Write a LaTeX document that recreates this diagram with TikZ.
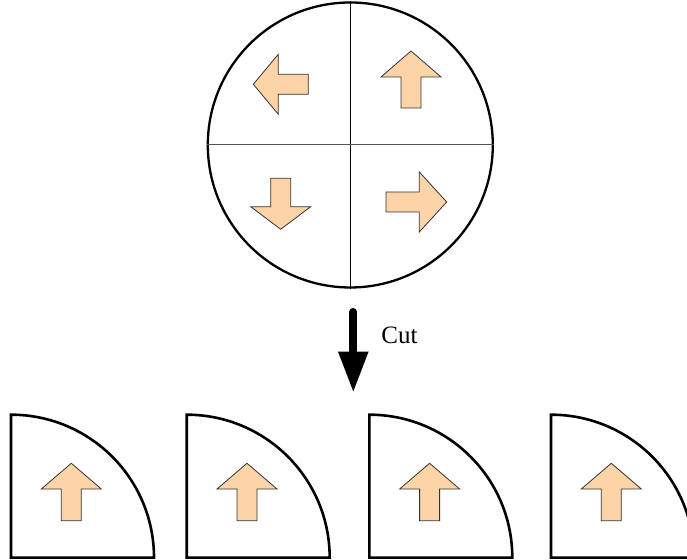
\documentclass[tikz,border=0pt]{standalone}
\usepackage{fontspec}
\setmainfont{Liberation Serif}
\usepackage{tikz}
\usetikzlibrary{arrows.meta,positioning}
\definecolor{tilefill}{HTML}{FDD4A7}
\definecolor{crossgray}{HTML}{555555}
\newcommand{\tilearrow}[4]{%
  \draw[arrowpoly,shift={#1},rotate=#2] (0,0) -- (30,-#3) -- (10,-#3) -- (10,-#4)
    -- (-10,-#4) -- (-10,-#3) -- (-30,-#3) -- cycle;}

\begin{document}
\begin{tikzpicture}[
      x=0.5pt,y=0.5pt,
      >=Latex,
      rim/.style={draw,line width=1.15pt},
      arrowpoly/.style={draw=black!80,line width=0.4pt,fill=tilefill,line join=miter},
      piece/.style={draw,line width=1.3pt,line join=miter},
      cutlabel/.style={font=\fontsize{12.5}{15}\selectfont,inner sep=0pt}
    ]
    \useasboundingbox (0,0) rectangle (687,560);
    \node[circle,rim,minimum size=142.5pt,inner sep=0pt] (disc) at (350.3,415) {};
    \draw[line width=0.5pt] (disc.north) -- (disc.south);
    \draw[line width=0.5pt,crossgray] (disc.west) -- (disc.east);
    \tilearrow{(411,509)}{0}{26}{57}
    \tilearrow{(253.3,475.7)}{90}{25}{55}
    \tilearrow{(280.7,330.7)}{180}{22.6}{51}
    \tilearrow{(446.7,358)}{-90}{27.4}{60.7}
    \coordinate (cuttop) at (353.3,248);
    \coordinate (cutbot) at (353.3,167.3);
    \draw[line width=4pt,line cap=round,-{Triangle[width=14pt,length=20.5pt]}]
      (cuttop) -- (cutbot);
    \node[cutlabel,anchor=base west] (cutlbl) at (381,216) {Cut};
    \foreach \px [count=\i] in {11,186.7,369.3,551}{
      \draw[piece] (\px,2.3) coordinate (corner\i) -- ++(0,143)
        arc[start angle=90,end angle=0,radius=143] -- cycle;
      \tilearrow{(\px+60.3,96.7)}{0}{25.7}{57.4}
    }
  \end{tikzpicture}
\end{document}
